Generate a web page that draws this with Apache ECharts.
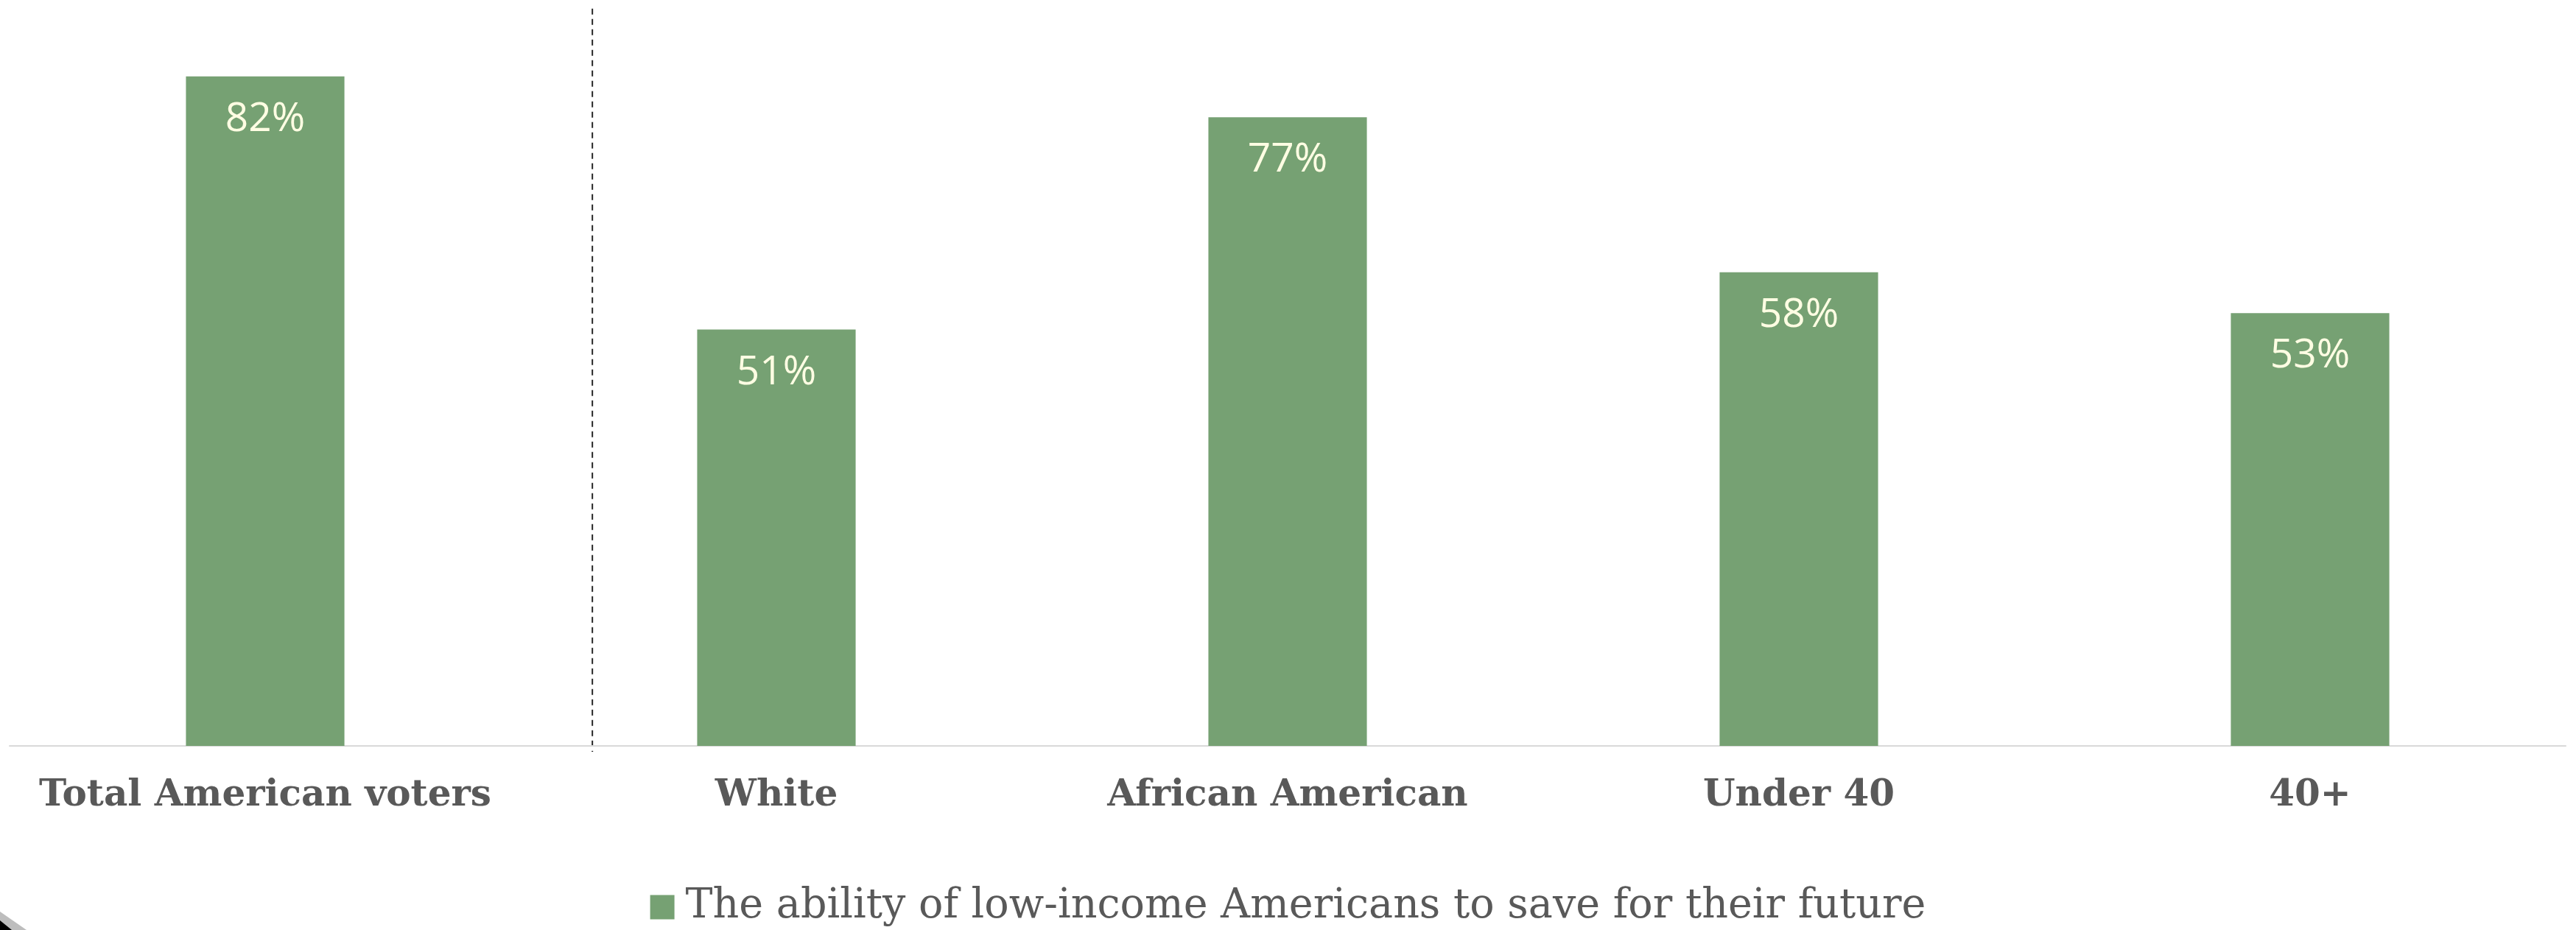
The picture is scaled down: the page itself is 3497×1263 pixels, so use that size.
<!DOCTYPE html>
<html>
<head>
<meta charset="utf-8">
<script src="https://cdn.jsdelivr.net/npm/echarts@6/dist/echarts.min.js"></script>
<style>html,body{margin:0;padding:0;background:#fff;}#c{width:3497px;height:1263px;}</style>
</head>
<body>
<div id="c"></div>
<script>
const categories = ['Total American voters', 'White', 'African American', 'Under 40', '40+'];
const seriesName = 'The ability of low-income Americans to save for their future';
const values = [82, 51, 77, 58, 53];
const separatorAt = 0.64;

const chart = echarts.init(document.getElementById('c'), null, {renderer: 'canvas'});
const corner = [
  {type: 'polygon', shape: {points: [[0, 1238], [36, 1263], [0, 1263]]}, style: {fill: '#bdbdbd'}},
  {type: 'polygon', shape: {points: [[0, 1250], [16, 1263], [0, 1263]]}, style: {fill: '#000'}}
];
chart.setOption({
  animation: false,
  backgroundColor: '#ffffff',
  grid: {left: 13, right: 14, top: 15, bottom: 250, containLabel: false},
  xAxis: [{
    type: 'category',
    data: categories,
    axisLine: {show: true, lineStyle: {color: '#d9d9d9', width: 2}},
    axisTick: {show: false},
    axisLabel: {
      interval: 0, margin: 43,
      fontFamily: 'DejaVu Serif', fontWeight: 'bold', fontSize: 50, color: '#595959'
    }
  }, {
    type: 'value', min: -0.5, max: 4.5, show: false
  }],
  yAxis: {type: 'value', min: 0, max: 90, show: false, splitLine: {show: false}},
  legend: {
    top: 1199, left: 'center',
    data: [seriesName],
    itemWidth: 33, itemHeight: 33, icon: 'rect',
    textStyle: {fontFamily: 'DejaVu Serif', fontSize: 55.5, color: '#595959', padding: [0, 0, 0, 10]}
  },
  series: [{
    name: seriesName,
    type: 'bar',
    data: values,
    barWidth: '31%',
    itemStyle: {color: '#76a173'},
    label: {
      show: true, position: 'insideTop', distance: 31,
      formatter: p => p.value + '%',
      fontFamily: 'Open Sans', fontSize: 55, color: '#fffde3'
    }
  }],
  graphic: corner
});

const sx = chart.convertToPixel({xAxisIndex: 1}, separatorAt);
const yTop = chart.convertToPixel({yAxisIndex: 0}, 90.3);
const yBot = chart.convertToPixel({yAxisIndex: 0}, -0.72);
chart.setOption({
  graphic: corner.concat([
    {type: 'line', shape: {x1: sx, y1: yTop, x2: sx, y2: yBot},
     style: {stroke: '#262626', lineWidth: 2, lineDash: [8, 6]}}
  ])
});
</script>
</body>
</html>
